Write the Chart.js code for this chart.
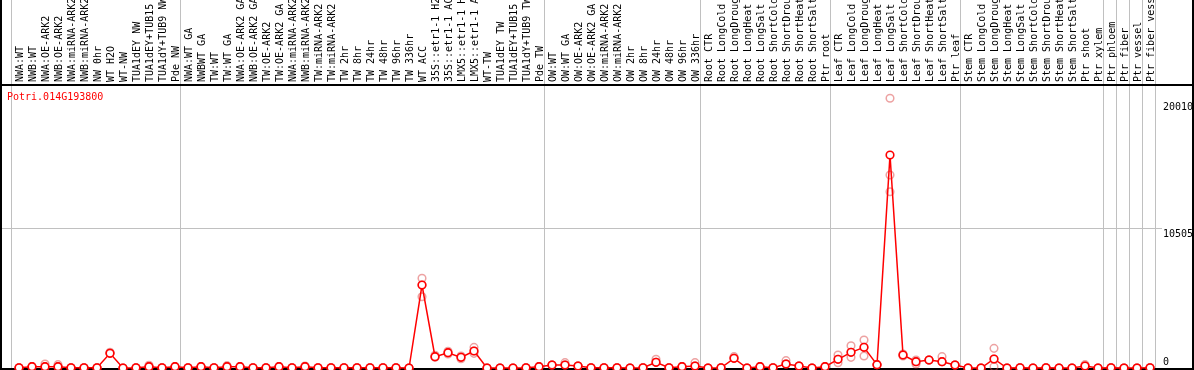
<!DOCTYPE html>
<html><head><meta charset="utf-8">
<script src="https://cdn.jsdelivr.net/npm/chart.js@4/dist/chart.umd.min.js"></script>
<style>html,body{margin:0;padding:0;background:#fff;overflow:hidden}#wrap{width:1194px;height:370px;position:relative}</style>
</head><body><div id="wrap"><canvas id="c" width="1194" height="370"></canvas></div>
<script>
const chartTitle = "Potri.014G193800";
const categories = [
 "NWA:WT","NWB:WT","NWA:OE-ARK2","NWB:OE-ARK2","NWA:miRNA-ARK2","NWB:miRNA-ARK2","NW 0hr","WT H2O","WT-NW","TUA1dEY NW","TUA1dEY+TUB15 NW","TUA1dY+TUB9 NW","Pde NW",
 "NWA:WT GA","NWBWT GA","TW:WT","TW:WT GA","NWA:OE-ARK2 GA","NWB:OE-ARK2 GA","TW:OE-ARK2","TW:OE-ARK2 GA","NWA:miRNA-ARK2 GA","NWB:miRNA-ARK2 GA","TW:miRNA-ARK2","TW:miRNA-ARK2 GA","TW 2hr","TW 8hr","TW 24hr","TW 48hr","TW 96hr","TW 336hr","WT ACC","35S::etr1-1 H2O","35S::etr1-1 ACC","LMX5::etr1-1 H2O","LMX5::etr1-1 ACC","WT-TW","TUA1dEY TW","TUA1dEY+TUB15 TW","TUA1dY+TUB9 TW","Pde TW",
 "OW:WT","OW:WT GA","OW:OE-ARK2","OW:OE-ARK2 GA","OW:miRNA-ARK2","OW:miRNA-ARK2 GA","OW 2hr","OW 8hr","OW 24hr","OW 48hr","OW 96hr","OW 336hr",
 "Root CTR","Root LongCold","Root LongDrought","Root LongHeat","Root LongSalt","Root ShortCold","Root ShortDrought","Root ShortHeat","Root ShortSalt","Ptr root",
 "Leaf CTR","Leaf LongCold","Leaf LongDrought","Leaf LongHeat","Leaf LongSalt","Leaf ShortCold","Leaf ShortDrought","Leaf ShortHeat","Leaf ShortSalt","Ptr leaf",
 "Stem CTR","Stem LongCold","Stem LongDrought","Stem LongHeat","Stem LongSalt","Stem ShortCold","Stem ShortDrought","Stem ShortHeat","Stem ShortSalt","Ptr shoot","Ptr xylem",
 "Ptr phloem","Ptr fiber","Ptr vessel","Ptr fiber vessel"
];
const groupStarts = [0,13,41,53,63,73,84,85,86,87,88];
const meanValues = [
 20,100,100,100,20,20,20,1100,0,20,100,20,100,
 20,100,20,100,100,20,20,100,20,100,20,20,20,20,20,20,20,0,6225,850,1150,800,1275,0,0,0,20,100,
 225,225,150,20,20,20,0,20,425,20,100,150,
 0,20,725,0,100,20,300,150,0,100,
 650,1175,1550,250,15980,975,475,600,475,225,
 0,0,675,0,20,0,20,0,0,150,0,
 20,0,0,20
];
const rep1Values = [
 20,100,300,250,20,20,20,1180,0,20,200,20,100,
 20,100,20,180,100,20,20,100,20,150,20,20,20,20,20,20,20,0,6730,950,1250,900,1550,0,0,0,20,100,
 225,400,150,20,20,20,0,20,650,20,100,400,
 0,20,850,0,100,20,550,150,0,100,
 975,1675,2100,250,20240,1050,600,600,850,225,
 0,0,1475,0,20,0,20,0,0,250,0,
 20,0,0,20
];
const rep2Values = [
 20,100,100,100,20,20,20,1100,0,20,100,20,100,
 20,100,20,100,100,20,20,100,20,100,20,20,20,20,20,20,20,0,5350,800,1050,700,1100,0,0,0,20,100,
 225,225,150,20,20,20,0,20,425,20,100,150,
 0,20,725,0,100,20,300,150,0,100,
 400,800,900,250,14480,900,300,600,475,225,
 0,0,100,0,20,0,20,0,0,150,0,
 20,0,0,20
];
const rep3Values = [
 20,100,100,100,20,20,20,1100,0,20,100,20,100,
 20,100,20,100,100,20,20,100,20,100,20,20,20,20,20,20,20,0,6225,850,1150,800,1275,0,0,0,20,100,
 225,225,150,20,20,20,0,20,425,20,100,150,
 0,20,725,0,100,20,300,150,0,100,
 650,1175,1550,250,13230,975,475,600,475,225,
 0,0,675,0,20,0,20,0,0,150,0,
 20,0,0,20
];
const yTickValues = [0, 10505, 20010];
const yTickLabels = ["0", "10505", "20010"];

const FONT = "10px 'DejaVu Sans Mono', 'Liberation Mono', monospace";
const toPts = arr => arr.map((v, i) => ({x: i, y: v}));
const repColor = 'rgba(220,70,70,0.5)';

const decor = {
  id: 'decor',
  beforeDatasetsDraw(chart) {
    const ctx = chart.ctx, xs = chart.scales.x, ys = chart.scales.y, a = chart.chartArea;
    ctx.save();
    ctx.fillStyle = '#c0c0c0';
    groupStarts.forEach(k => {
      const px = Math.round(xs.getPixelForValue(k - 0.62));
      ctx.fillRect(px, 0, 1, a.bottom);
    });
    const gy = Math.round(ys.getPixelForValue(yTickValues[1]));
    ctx.fillRect(a.left, gy, 1162 - a.left, 1);
    ctx.fillStyle = '#000';
    ctx.fillRect(0, 0, 2, 370);
    ctx.fillRect(1192, 0, 2, 370);
    ctx.fillRect(0, 84, 1194, 2);
    ctx.fillRect(0, 368, 1194, 2);
    ctx.restore();
  },
  afterDatasetsDraw(chart) {
    const ctx = chart.ctx, xs = chart.scales.x, ys = chart.scales.y, a = chart.chartArea;
    ctx.save();
    ctx.font = FONT;
    ctx.fillStyle = '#000';
    ctx.textAlign = 'left';
    ctx.textBaseline = 'middle';
    categories.forEach((lab, i) => {
      const px = xs.getPixelForValue(i) + 1;
      ctx.save();
      ctx.translate(px, 82);
      ctx.rotate(-Math.PI / 2);
      ctx.fillText(lab, 0, 0);
      ctx.restore();
    });
    yTickValues.forEach((v, j) => {
      const py = ys.getPixelForValue(v);
      if (py + 12 > a.bottom) { ctx.textBaseline = 'bottom'; ctx.fillText(yTickLabels[j], 1163, py - 1); }
      else { ctx.textBaseline = 'top'; ctx.fillText(yTickLabels[j], 1163, py + 1); }
    });
    ctx.fillStyle = '#ff0000';
    ctx.textBaseline = 'top';
    ctx.fillText(chartTitle, 7, 92);
    ctx.restore();
  }
};

new Chart(document.getElementById('c'), {
  type: 'line',
  data: {
    datasets: [
      {label: 'mean', data: toPts(meanValues), borderColor: '#ff0000', borderWidth: 1.5, pointRadius: 3.8, pointBorderWidth: 1.6, pointBorderColor: '#ff0000', pointBackgroundColor: '#ffffff', clip: false, tension: 0},
      {label: 'rep1', data: toPts(rep1Values), showLine: false, pointRadius: 3.8, pointBorderWidth: 1.5, pointBorderColor: repColor, pointBackgroundColor: 'rgba(0,0,0,0)', clip: false},
      {label: 'rep2', data: toPts(rep2Values), showLine: false, pointRadius: 3.8, pointBorderWidth: 1.5, pointBorderColor: repColor, pointBackgroundColor: 'rgba(0,0,0,0)', clip: false},
      {label: 'rep3', data: toPts(rep3Values), showLine: false, pointRadius: 3.8, pointBorderWidth: 1.5, pointBorderColor: repColor, pointBackgroundColor: 'rgba(0,0,0,0)', clip: false}
    ]
  },
  options: {
    responsive: false,
    animation: false,
    events: [],
    layout: {autoPadding: false, padding: {left: 1, right: 2, top: 86, bottom: 1}},
    scales: {
      x: {type: 'linear', display: false, min: -1.3846, max: 90.23},
      y: {type: 'linear', display: false, min: -75, max: 21160}
    },
    plugins: {legend: {display: false}, tooltip: {enabled: false}, title: {display: false}}
  },
  plugins: [decor]
});
</script>
</body></html>
